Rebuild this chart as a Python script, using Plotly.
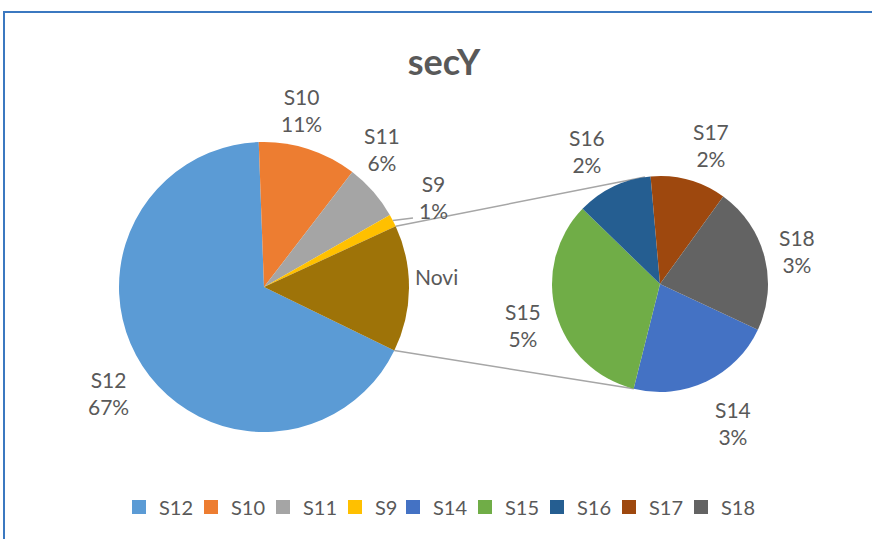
import math
import plotly.graph_objects as go

# ---- data ----
main_labels = ["S12", "S10", "S11", "S9"]
main_values = [67.2, 11.0, 6.3, 1.4]
other_label = "Novi"
sec_labels = ["S14", "S15", "S16", "S17", "S18"]
sec_values = [3.1, 4.7, 1.6, 1.6, 3.1]

main_colors = ["#5B9BD5", "#ED7D31", "#A5A5A5", "#FFC000"]
other_color = "#9E7308"
sec_colors = ["#4472C4", "#70AD47", "#255E91", "#9E480E", "#636363"]

W, H = 872, 539
TXT = "#595959"
FONT = "Lato"

other_value = sum(sec_values)
total = sum(main_values) + other_value

# geometry (pixels)
mc, mr = (264, 287), 145
sc, sr = (660, 284), 108
main_rot = 116
sec_rot = 115


def px(x):
    return x / W


def py(y):
    return 1 - y / H


def dom(c, r):
    return dict(x=[px(c[0] - r), px(c[0] + r)], y=[py(c[1] + r), py(c[1] - r)])


def pt(c, r, ang):
    a = math.radians(ang)
    return (c[0] + r * math.sin(a), c[1] - r * math.cos(a))


fig = go.Figure()
fig.add_trace(go.Pie(
    labels=main_labels + [other_label], values=main_values + [other_value],
    marker=dict(colors=main_colors + [other_color], line=dict(width=0)),
    sort=False, direction="clockwise", rotation=main_rot,
    textinfo="none", hoverinfo="label+percent", showlegend=False,
    domain=dom(mc, mr),
))
fig.add_trace(go.Pie(
    labels=sec_labels, values=sec_values,
    marker=dict(colors=sec_colors, line=dict(width=0)),
    sort=False, direction="clockwise", rotation=sec_rot,
    textinfo="none", hoverinfo="label+value", showlegend=False,
    domain=dom(sc, sr),
))

# legend entries
legend_labels = main_labels + sec_labels
for i, (lab, col) in enumerate(zip(legend_labels, main_colors + sec_colors)):
    lw = 13 if len(lab) == 2 else 27
    if i == len(legend_labels) - 1:
        lw = 40
    fig.add_trace(go.Scatter(x=[None], y=[None], mode="markers", name=lab,
                             marker=dict(symbol="square", size=14, color=col),
                             legendwidth=lw, showlegend=True))

# angles of slice boundaries
main_vals_all = main_values + [other_value]
cum = [main_rot]
for v in main_vals_all:
    cum.append(cum[-1] + 360 * v / total)
other_start, other_end = cum[-2], cum[-1]

shapes = []
line_style = dict(color="#A6A6A6", width=1.5)
p1 = pt(mc, mr, other_start)
p2 = pt(sc, sr, 352)
p3 = pt(mc, mr, other_end)
p4 = pt(sc, sr, 194)
for a, b in [(p1, p2), (p3, p4)]:
    shapes.append(dict(type="line", xref="paper", yref="paper",
                       x0=px(a[0]), y0=py(a[1]), x1=px(b[0]), y1=py(b[1]),
                       line=line_style, layer="below"))
# S9 leader line
s9_mid = (cum[3] + cum[4]) / 2
q = pt(mc, mr, s9_mid)
shapes.append(dict(type="line", xref="paper", yref="paper",
                   x0=px(q[0]), y0=py(q[1]), x1=px(413), y1=py(218),
                   line=line_style))
# outer frame
shapes.append(dict(type="rect", xref="paper", yref="paper",
                   x0=px(4), y0=py(12), x1=px(W + 20), y1=py(H + 20),
                   line=dict(color="#3B78C0", width=2)))

# data labels
label_pos = {
    "S12": (108, 393), "S10": (301, 110), "S11": (382, 149), "S9": (433, 197),
    "S14": (733, 423), "S15": (523, 325), "S16": (587, 151), "S17": (711, 145),
    "S18": (797, 251),
}
annotations = []
for lab, v in zip(main_labels + sec_labels, main_values + sec_values):
    x, y = label_pos[lab]
    annotations.append(dict(x=px(x), y=py(y), xref="paper", yref="paper",
                            xanchor="center", yanchor="middle",
                            text=f"{lab}<br>{round(100 * v / total)}%",
                            showarrow=False, align="center",
                            font=dict(family=FONT, size=21, color=TXT)))
annotations.append(dict(x=px(437), y=py(276), xref="paper", yref="paper",
                        xanchor="center", yanchor="middle",
                        text=other_label, showarrow=False,
                        font=dict(family=FONT, size=21, color=TXT)))

fig.update_layout(
    width=W, height=H,
    margin=dict(l=0, r=0, t=0, b=0),
    paper_bgcolor="white", plot_bgcolor="white",
    title=dict(text="<b>secY</b>", x=px(444), xanchor="center",
               y=py(62), yanchor="middle", yref="container",
               font=dict(family=FONT, size=36, color=TXT)),
    xaxis=dict(visible=False), yaxis=dict(visible=False),
    legend=dict(orientation="h", x=px(137 - 18), xanchor="left",
                y=py(507), yanchor="middle",
                font=dict(family=FONT, size=20, color=TXT),
                itemwidth=30,
                itemclick=False, itemdoubleclick=False),
    shapes=shapes, annotations=annotations,
)

fig.write_html("out.html", config={"displayModeBar": False},
               post_script="document.body.style.margin='0px';document.body.style.overflow='hidden';")
